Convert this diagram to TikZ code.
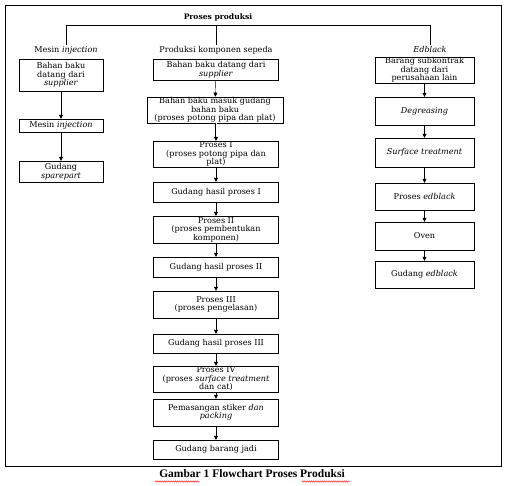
\documentclass[tikz,border=0pt]{standalone}
\usepackage{fontspec}
\setmainfont{DejaVu Serif}
\newfontfamily\capfont{Liberation Serif}
\usetikzlibrary{arrows.meta,decorations.pathmorphing}

\tikzset{
  box/.style={draw,thin,align=center,inner sep=0.5pt,font=\fontsize{8.1}{8.6}\selectfont},
  lbox/.style={box,minimum width=84pt},
  mbox/.style={box,minimum width=125pt},
  rbox/.style={box,minimum width=99pt},
  lbl/.style={inner sep=1pt,font=\fontsize{8.1}{8.6}\selectfont},
  flow/.style={-{Triangle[length=4pt,width=4pt]}},
  spell/.style={red,decorate,decoration={snake,amplitude=0.7pt,segment length=2.2pt}},
}

\begin{document}
\begin{tikzpicture}[x=1pt,y=-1pt]
  \useasboundingbox (0,0) rectangle (509,485);
  \draw (5,5) rectangle (501,466);

  % heading and column titles
  \node[lbl,anchor=south,inner sep=4pt,font=\bfseries\fontsize{7.6}{8.6}\selectfont] (top) at (218,25) {Proses produksi};
  \node[lbl] (tl) at (66,50) {Mesin \textit{injection}};
  \node[lbl] (tm) at (216,50) {Produksi komponen sepeda};
  \node[lbl] (tr) at (430,49) {\textit{Edblack}};
  \draw (tl.north) |- (tr.north |- top.south) -- (tr.north);
  \draw (tm.north) -- (tm.north |- top.south);

  % Mesin injection
  \node[lbox,minimum height=32pt] (l1) at (61,75) {Bahan baku\\datang dari\\\textit{supplier}};
  \node[lbox,minimum height=13pt] (l2) at (61,125.5) {Mesin \textit{injection}};
  \node[lbox,minimum height=21pt] (l3) at (61,171.5) {Gudang\\\textit{sparepart}};
  \draw[flow] (l1) -- (l2);
  \draw[flow] (l2) -- (l3);

  % Produksi komponen sepeda
  \node[mbox,minimum height=21pt] (m1) at (216,69.5) {Bahan baku datang dari\\\textit{supplier}};
  \node[mbox,minimum width=136pt,minimum height=26pt] (m2) at (215,110) {Bahan baku masuk gudang\\bahan baku\\(proses potong pipa dan plat)};
  \node[mbox,minimum height=26pt] (m3) at (216,154) {Proses I\\(proses potong pipa dan\\plat)};
  \node[mbox,minimum height=20pt] (m4) at (216,192) {Gudang hasil proses I};
  \node[mbox,minimum height=27pt] (m5) at (216,229.5) {Proses II\\(proses pembentukan\\komponen)};
  \node[mbox,minimum height=20pt] (m6) at (216,267) {Gudang hasil proses II};
  \node[mbox,minimum height=27pt] (m7) at (216,304.5) {Proses III\\(proses pengelasan)};
  \node[mbox,minimum height=19pt] (m8) at (216,343.5) {Gudang hasil proses III};
  \node[mbox,minimum height=26pt] (m9) at (216,379) {Proses IV\\(proses \textit{surface treatment}\\dan cat)};
  \node[mbox,minimum height=27pt] (m10) at (216,412.5) {Pemasangan stiker \textit{dan}\\\textit{packing}};
  \node[mbox,minimum height=19pt] (m11) at (216,449.5) {Gudang barang jadi};
  \draw[flow] (m1) -- (m2);
  \draw[flow,double,double distance=0.8pt] (m2.south -| m1) -- (m3);
  \draw[flow] (m3) -- (m4);
  \draw[flow] (m4) -- (m5);
  \draw[flow] (m5) -- (m6);
  \draw[flow] (m6) -- (m7);
  \draw[flow] (m7) -- (m8);
  \draw[flow] (m8) -- (m9);
  \draw[flow] (m9) -- (m10);
  \draw[flow] (m10) -- (m11);

  % Edblack
  \node[rbox,minimum height=26pt] (r1) at (424.5,70) {Barang subkontrak\\datang dari\\perusahaan lain};
  \node[rbox,minimum height=28pt] (r2) at (424.5,111) {\textit{Degreasing}};
  \node[rbox,minimum height=29pt] (r3) at (424.5,152.5) {\textit{Surface treatment}};
  \node[rbox,minimum height=27pt] (r4) at (424.5,196.5) {Proses \textit{edblack}};
  \node[rbox,minimum height=28pt] (r5) at (424.5,236) {Oven};
  \node[rbox,minimum height=27pt] (r6) at (424.5,274.5) {Gudang \textit{edblack}};
  \draw[flow] (r1) -- (r2);
  \draw[flow] (r2) -- (r3);
  \draw[flow] (r3) -- (r4);
  \draw[flow] (r4) -- (r5);
  \draw[flow] (r5) -- (r6);

  % caption
  \node[inner sep=0pt,font=\capfont\bfseries\fontsize{11.5}{13}\selectfont] (cap) at (252,474) {Gambar 1 Flowchart Proses Produksi};
  \draw[spell] (155,481.5) -- (200,481.5);
  \draw[spell] (302,481.5) -- (350,481.5);
\end{tikzpicture}
\end{document}
